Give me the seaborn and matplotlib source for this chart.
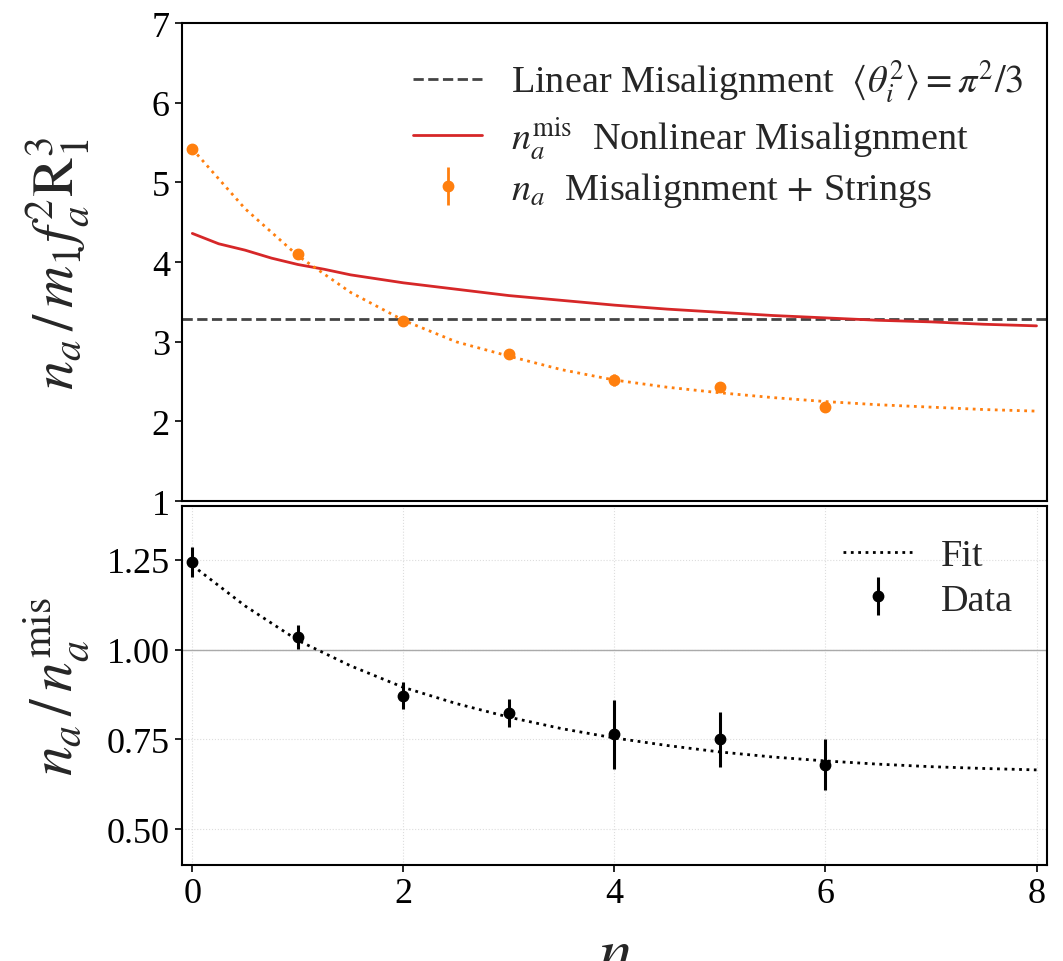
import numpy as np
import seaborn as sns
import matplotlib.pyplot as plt
from matplotlib.ticker import FormatStrFormatter

# data
n_pts = [0, 1, 2, 3, 4, 5, 6]
na_strings = [5.42, 4.10, 3.26, 2.85, 2.52, 2.43, 2.18]
na_strings_err = [0.03, 0.03, 0.02, 0.03, 0.07, 0.04, 0.03]

n_fit = [0, 0.5, 1, 1.5, 2, 2.5, 3, 3.5, 4, 4.5, 5, 5.5, 6, 6.5, 7, 7.5, 8]
na_fit = [5.42, 4.67, 4.08, 3.62, 3.27, 3.00, 2.82, 2.65, 2.52, 2.43, 2.36,
          2.30, 2.25, 2.21, 2.18, 2.15, 2.13]

n_mis = [0, 0.25, 0.5, 0.75, 1.0, 1.25, 1.5, 1.75, 2.0, 2.5, 3.0, 3.5, 4.0,
         4.5, 5.0, 5.5, 6.0, 6.5, 7.0, 7.5, 8.0]
na_mis = [4.36, 4.23, 4.15, 4.05, 3.97, 3.91, 3.84, 3.79, 3.74, 3.66, 3.58,
          3.52, 3.46, 3.41, 3.37, 3.33, 3.30, 3.27, 3.25, 3.22, 3.20]

linear_mis = np.pi**2 / 3

ratio = [1.244, 1.035, 0.872, 0.824, 0.764, 0.750, 0.680]
ratio_err = [0.042, 0.034, 0.038, 0.039, 0.096, 0.076, 0.072]
ratio_fit = [1.235, 1.122, 1.026, 0.955, 0.895, 0.850, 0.812, 0.780, 0.754,
             0.733, 0.715, 0.701, 0.690, 0.681, 0.674, 0.669, 0.665]

sns.set_theme(style="ticks")
plt.rcParams['font.family'] = ['Liberation Serif', 'DejaVu Serif']
plt.rcParams['mathtext.fontset'] = 'stix'
plt.rcParams['axes.edgecolor'] = 'black'
plt.rcParams['axes.linewidth'] = 1.5
plt.rcParams['xtick.color'] = 'black'
plt.rcParams['ytick.color'] = 'black'

fig = plt.figure(figsize=(10.63, 9.62), dpi=100)
ax1 = fig.add_axes([0.171, 0.478, 0.814, 0.497])
ax2 = fig.add_axes([0.171, 0.0998, 0.814, 0.373])

# top panel
ax1.axhline(linear_mis, color='#444444', linestyle='--', lw=2,
            label=r'Linear Misalignment  $\langle\theta_i^2\rangle = \pi^2/3$')
sns.lineplot(x=n_mis, y=na_mis, ax=ax1, color='#d62728', lw=2,
             label=r'$n_a^{\mathrm{mis}}$  Nonlinear Misalignment')
sns.lineplot(x=n_fit, y=na_fit, ax=ax1, color='#ff7f0e', lw=2,
             linestyle=':', label='_nolegend_')
ax1.errorbar(n_pts, na_strings, yerr=na_strings_err, fmt='o', color='#ff7f0e',
             ms=7.5, elinewidth=2, capsize=0,
             label=r'$n_a$  Misalignment$\,+\,$Strings')

ax1.set_xlim(-0.1, 8.1)
ax1.set_ylim(1, 7)
ax1.set_yticks([1, 2, 3, 4, 5, 6, 7])
ax1.tick_params(axis='y', labelsize=26, length=5, width=1.2, direction='out')
ax1.tick_params(axis='x', bottom=False, labelbottom=False)
ax1.set_xlabel('')
ax1.set_ylabel(r'$n_a\,/\,m_1 f_a^2 \mathrm{R}_1^3$', fontsize=42)
ax1.yaxis.set_label_coords(-0.105, 0.5)
ax1.legend(loc='upper right', frameon=False, fontsize=27.5, handlelength=1.8,
           handletextpad=0.75, bbox_to_anchor=(1.012, 1.0), labelspacing=0.25)

# bottom panel
ax2.grid(True, color='#dddddd', lw=0.8, linestyle=':')
ax2.axhline(1.0, color='#aaaaaa', lw=1)
sns.lineplot(x=n_fit, y=ratio_fit, ax=ax2, color='black', lw=2,
             linestyle=':', label='Fit')
ax2.errorbar(n_pts, ratio, yerr=ratio_err, fmt='o', color='black',
             ms=7.5, elinewidth=2.2, capsize=0, label='Data')

ax2.set_xlim(-0.1, 8.1)
ax2.set_ylim(0.4, 1.4)
ax2.set_yticks([0.5, 0.75, 1.0, 1.25])
ax2.yaxis.set_major_formatter(FormatStrFormatter('%.2f'))
ax2.set_xticks([0, 2, 4, 6, 8])
ax2.tick_params(labelsize=26, length=5, width=1.2, direction='out')
ax2.set_ylabel(r'$n_a\,/\,n_a^{\mathrm{mis}}$', fontsize=43)
ax2.yaxis.set_label_coords(-0.105, 0.5)
ax2.set_xlabel(r'$n$', fontsize=48)
ax2.xaxis.set_label_coords(0.5, -0.17)
ax2.legend(loc='upper right', frameon=False, fontsize=27.5, handlelength=1.8,
           handletextpad=0.75, bbox_to_anchor=(1.0, 1.005), labelspacing=0.25)

fig.savefig('out.png', dpi=100)
